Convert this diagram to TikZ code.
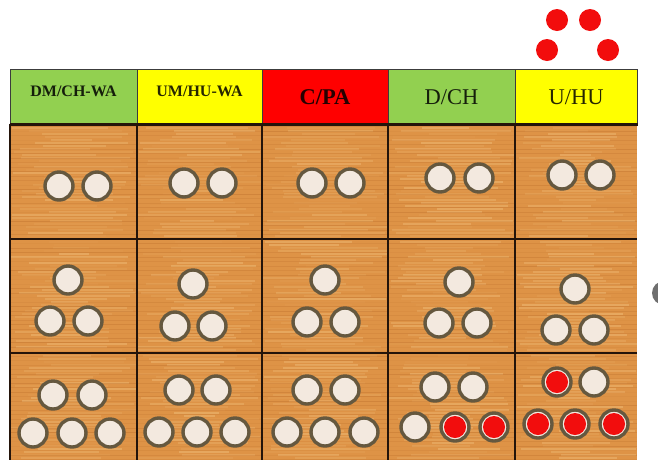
\documentclass[tikz,border=0pt]{standalone}
\usepackage{fontspec}
\setmainfont{Liberation Serif}

\definecolor{woodbase}{HTML}{DE9346}
\definecolor{woodlight}{HTML}{F2C27F}
\definecolor{wooddark}{HTML}{B86A28}
\definecolor{gridbrown}{HTML}{24140A}
\definecolor{hdrline}{HTML}{3C3C3C}
\definecolor{hgreen}{HTML}{92D050}
\definecolor{hyellow}{HTML}{FFFF00}
\definecolor{hred}{HTML}{FF0000}
\definecolor{ringbrown}{HTML}{65583F}
\definecolor{cream}{HTML}{F3E9DF}
\definecolor{chipred}{HTML}{F20D0D}
\definecolor{discgrey}{HTML}{6F6F6F}

\tikzset{
	hdr/.style={rectangle, draw=hdrline, line width=1pt, minimum height=55pt, inner sep=0pt, text opacity=0.85},
	wa/.style={font=\fontsize{16}{16}\selectfont\bfseries, text height=11pt, text depth=12pt},
	big/.style={font=\fontsize{22.5}{22.5}\selectfont, text height=15pt, text depth=0pt},
	piece/.style={circle, draw=ringbrown, line width=3.4pt, fill=cream, minimum size=28pt, inner sep=0pt},
	redpiece/.style={piece, path picture={\fill[chipred] (path picture bounding box.center) circle (11pt);}},
	dot/.style={circle, fill=chipred, minimum size=22pt, inner sep=0pt},
	gridline/.style={draw=gridbrown, line width=2.2pt},
}

\begin{document}
\begin{tikzpicture}[x=1pt, y=-1pt]
	\useasboundingbox (0,0) rectangle (658,459);
	\clip (0,0) rectangle (658,459);

	% wooden board
	\fill[woodbase] (10,124) rectangle (637,462);
	\pgfmathsetseed{11}
	\foreach \xl/\xr in {10/137,137/262,262/388,388/515,515/637} {
		\foreach \y in {125,128,...,461} {
			\pgfmathsetmacro\op{0.05+0.4*rnd}
			\pgfmathsetmacro\xa{\xl+rnd*50}
			\pgfmathsetmacro\xb{\xr-rnd*50}
			\draw[woodlight, line width=2pt, opacity=\op] (\xa,\y) -- (\xb,\y);
		}
		\foreach \y in {126.5,131,...,462} {
			\pgfmathsetmacro\op{0.05+0.3*rnd}
			\draw[wooddark, line width=1pt, opacity=\op] (\xl,\y) -- (\xr,\y);
		}
	}

	% grid
	\foreach \x in {10,137,262,388,515}
		\draw[gridline] (\x,124) -- (\x,462);
	\foreach \y in {239,353}
		\draw[gridline] (10,\y) -- (637,\y);

	% header row
	\node[hdr, fill=hgreen, minimum width=127pt, wa] (h-dmch) at (73.5,96.5) {DM/CH-WA};
	\node[hdr, fill=hyellow, minimum width=125pt, wa] (h-umhu) at (199.5,96.5) {UM/HU-WA};
	\node[hdr, fill=hred, minimum width=126pt, big] (h-cpa) at (325,96.5) {\bfseries C/PA};
	\node[hdr, fill=hgreen, minimum width=127pt, big] (h-dch) at (451.5,96.5) {D/CH};
	\node[hdr, fill=hyellow, minimum width=122pt, big] (h-uhu) at (576,96.5) {U/HU};
	\draw[gridline] (h-dmch.south west) -- (h-uhu.south east);

	% row 1: two pieces
	\foreach \x/\y [count=\i] in {59/186,97/186,184/183,222/183,312/183,350/183,440/178,479/178,562/175,600/175}
		\node[piece] (a-\i) at (\x,\y) {};

	% row 2: three pieces
	\foreach \x/\y [count=\i] in {68/280,50/321,88/321,193/284,175/326,212/326,325/280,307/322,345/322,459/282,439/323,477/323,575/289,556/330,594/330}
		\node[piece] (b-\i) at (\x,\y) {};

	% row 3: five pieces
	\foreach \x/\y [count=\i] in {53/395,92/395,33/433,72/433,110/433,179/390,216/390,159/432,197/432,235/432,307/390,345/390,287/432,325/432,364/432,435/387,473/387,415/427,594/382}
		\node[piece] (c-\i) at (\x,\y) {};
	\foreach \x/\y [count=\i] in {455/427,494/427,557/382,538/424,575/424,614/424}
		\node[redpiece] (r-\i) at (\x,\y) {};

	% loose red chips
	\foreach \x/\y [count=\i] in {557/20,590/20,547/50,608/50}
		\node[dot] (d-\i) at (\x,\y) {};

	\node[circle, fill=discgrey, minimum size=24pt, inner sep=0pt] (disc) at (664,293) {};
\end{tikzpicture}
\end{document}
